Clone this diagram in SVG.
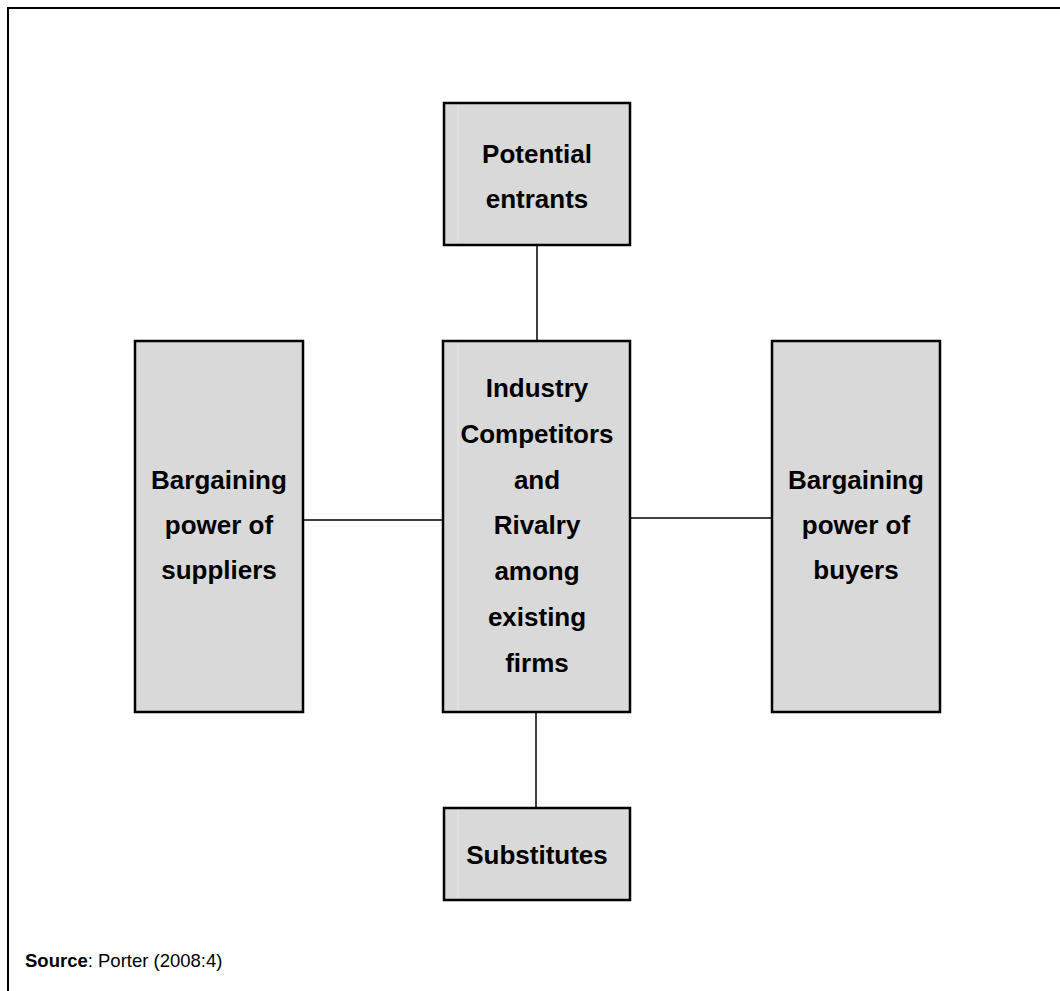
<svg xmlns="http://www.w3.org/2000/svg" width="1060" height="991" viewBox="0 0 1060 991">
<style>
.box{fill:#d9d9d9;stroke:#000;stroke-width:2.5}
.hl{stroke:#e6e6e6;stroke-width:1}
.lbl{font-family:"Liberation Sans",Arial,sans-serif;font-weight:bold;font-size:26px;fill:#000;text-anchor:middle}
.conn{stroke:#000;stroke-width:1.5;fill:none}
.src{font-family:"Liberation Sans",Arial,sans-serif;font-size:18.5px;fill:#000}
</style>
<rect width="1060" height="991" fill="#fff"/>
<path d="M8,991 V8 H1060" fill="none" stroke="#000" stroke-width="2"/>
<g id="connectors">
<line class="conn" x1="537" y1="245" x2="537" y2="341"/>
<line class="conn" x1="303" y1="520" x2="443" y2="520"/>
<line class="conn" x1="630" y1="518" x2="772" y2="518"/>
<line class="conn" x1="536" y1="712" x2="536" y2="808"/>
</g>
<g id="potential-entrants">
<rect class="box" x="444" y="103" width="186" height="142"/>
<line class="hl" x1="458" y1="105" x2="458" y2="243"/>
<text class="lbl" x="537" y="163">Potential</text>
<text class="lbl" x="537" y="208">entrants</text>
</g>
<g id="suppliers">
<rect class="box" x="135" y="341" width="168" height="371"/>
<text class="lbl" x="219" y="489">Bargaining</text>
<text class="lbl" x="219" y="534">power of</text>
<text class="lbl" x="219" y="579">suppliers</text>
</g>
<g id="industry">
<rect class="box" x="443" y="341" width="187" height="371"/>
<line class="hl" x1="458" y1="343" x2="458" y2="710"/>
<text class="lbl" x="537" y="397">Industry</text>
<text class="lbl" x="537" y="443">Competitors</text>
<text class="lbl" x="537" y="489">and</text>
<text class="lbl" x="537" y="534">Rivalry</text>
<text class="lbl" x="537" y="580">among</text>
<text class="lbl" x="537" y="626">existing</text>
<text class="lbl" x="537" y="672">firms</text>
</g>
<g id="buyers">
<rect class="box" x="772" y="341" width="168" height="371"/>
<text class="lbl" x="856" y="489">Bargaining</text>
<text class="lbl" x="856" y="534">power of</text>
<text class="lbl" x="856" y="579">buyers</text>
</g>
<g id="substitutes">
<rect class="box" x="444" y="808" width="186" height="92"/>
<line class="hl" x1="458" y1="810" x2="458" y2="898"/>
<text class="lbl" x="537" y="864">Substitutes</text>
</g>
<text class="src" x="25" y="967"><tspan font-weight="bold">Source</tspan>: Porter (2008:4)</text>
</svg>
